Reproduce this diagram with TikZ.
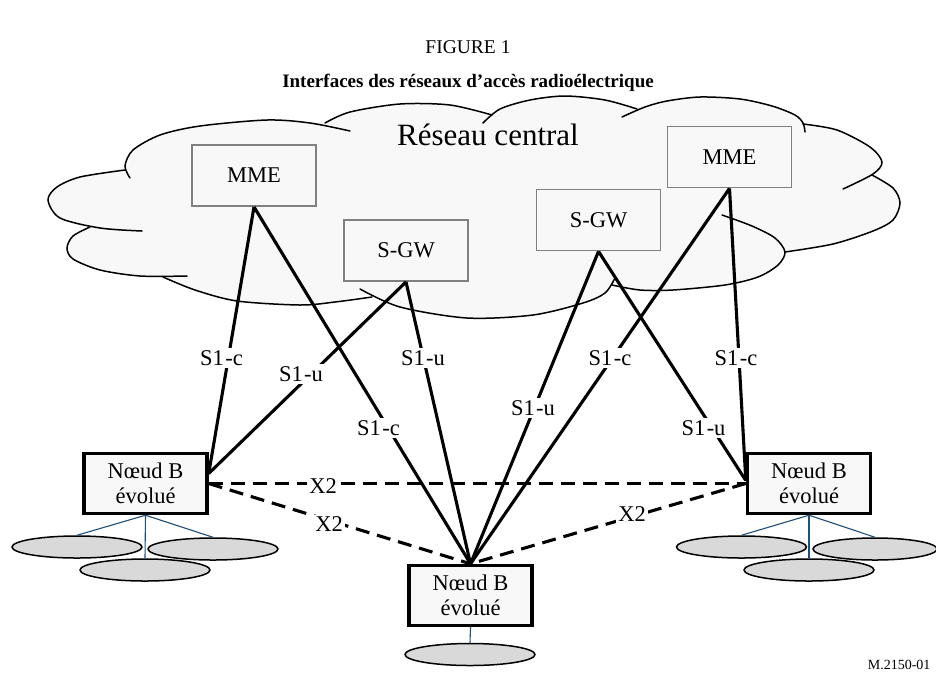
\documentclass[tikz,border=0pt]{standalone}
\usepackage{fontspec}
\setmainfont{Liberation Serif}
\usetikzlibrary{shapes.geometric,calc}
\definecolor{cloudgray}{HTML}{F8F8F8}
\definecolor{boxgray}{HTML}{808080}
\definecolor{cellgray}{HTML}{D9D9D9}
\definecolor{navy}{HTML}{1F4E79}
\begin{document}
\begin{tikzpicture}[x=1pt,y=-1pt,
  cloudline/.style={line width=1.5pt, line cap=round},
  corebox/.style={draw=boxgray, line width=1.8pt, fill=cloudgray, minimum width=124pt, minimum height=61pt, inner sep=0pt, font=\fontsize{22.5}{25}\selectfont},
  enbbox/.style={draw=black, line width=3.4pt, fill=cloudgray, minimum width=123pt, minimum height=60pt, inner sep=0pt, align=center, font=\fontsize{22.5}{24.5}\selectfont},
  link/.style={line width=3.1pt},
  xlink/.style={line width=3.1pt, dash pattern=on 14pt off 8pt},
  lbl/.style={fill=white, inner sep=2pt, font=\fontsize{22.5}{25}\selectfont},
  cell/.style={ellipse, draw=black, line width=1.5pt, fill=cellgray, minimum width=130pt, minimum height=22pt, inner sep=0pt},
  cellline/.style={draw=navy, line width=1.1pt}]
\useasboundingbox (0,0) rectangle (936,681);
\fill[white] (0,0) rectangle (936,681);

% titles
\node[font=\fontsize{19.5}{22}\selectfont] (fig) at (468,47) {FIGURE 1};
\node[font=\bfseries\fontsize{19}{22}\selectfont] (title) at (468,83) {Interfaces des réseaux d'accès radioélectrique};

% cloud fill
\fill[cloudgray] plot[smooth cycle, tension=0.5] coordinates {
(125,166) (133,150) (160,135) (200,126) (267,120) (310,123) (330,120) (350,112) (400,104) (450,105) (488,114) (500,109) (530,100) (565,96) (605,100) (628,107) (645,107) (667,101) (700,97) (740,99) (772,106) (795,115) (803,123) (837,130) (870,147) (882,162) (875,174) (893,188) (900,203) (893,220) (873,231) (833,244) (785,252) (778,265) (758,277) (725,285) (673,290) (640,290) (614,284) (605,293) (583,303) (533,315) (467,318) (400,307) (368,294) (335,302) (300,305) (237,301) (195,290) (168,279) (140,276) (100,270) (73,259) (67,248) (73,236) (88,228) (60,218) (48,200) (57,187) (80,177)};
% cloud lobes
\draw[cloudline] plot[smooth] coordinates {(130,178) (125,166) (133,150) (160,135) (200,126) (267,120) (310,123) (350,131)};
\draw[cloudline] plot[smooth] coordinates {(325,123) (350,112) (400,104) (450,105) (492,115)};
\draw[cloudline] plot[smooth] coordinates {(483,123) (500,109) (530,100) (565,96) (605,100) (637,109)};
\draw[cloudline] plot[smooth] coordinates {(622,117) (645,107) (667,101) (700,97) (740,99) (772,106) (795,115) (803,123) (805,132)};
\draw[cloudline] plot[smooth] coordinates {(803,124) (837,130) (870,147) (882,162) (873,174) (843,189)};
\draw[cloudline] plot[smooth] coordinates {(872,175) (893,188) (900,203) (893,220) (873,231) (833,244) (785,252)};
\draw[cloudline] plot[smooth] coordinates {(722,215) (752,226) (775,238) (785,252) (778,265) (758,277) (725,285) (673,290) (640,290) (612,285)};
\draw[cloudline] plot[smooth] coordinates {(615,278) (605,293) (583,303) (533,315) (467,318) (400,307) (360,289)};
\draw[cloudline] plot[smooth] coordinates {(372,297) (335,302) (300,305) (237,301) (195,290) (163,277)};
\draw[cloudline] plot[smooth] coordinates {(187,276) (140,276) (100,270) (73,259) (67,248) (73,236) (90,227)};
\draw[cloudline] plot[smooth] coordinates {(142,231) (100,228) (60,218) (48,200) (57,187) (80,177) (125,170)};

\node[font=\fontsize{31}{34}\selectfont, anchor=base] (core) at (488,145) {Réseau central};

% core boxes
\node[corebox] (mme1) at (254,175.5) {MME};
\node[corebox] (sgw1) at (406,250.5) {S-GW};
\node[corebox] (sgw2) at (598.5,220) {S-GW};
\node[corebox] (mme2) at (729.5,157) {MME};

% eNB boxes
\node[enbbox] (enb1) at (145.5,483.5) {Nœud B\\évolué};
\node[enbbox] (enb2) at (470.5,595.5) {Nœud B\\évolué};
\node[enbbox] (enb3) at (809,483.5) {Nœud B\\évolué};

\coordinate (enb1c) at ($(enb1.east)+(0,-10)$);
\coordinate (enb3c) at ($(enb3.west)+(0,-3)$);

% S1 links
\draw[link] (mme1.south) -- (enb1c);
\draw[link] (mme1.south) -- (enb2.north);
\draw[link] (sgw1.south) -- (enb1c);
\draw[link] (sgw1.south) -- (enb2.north);
\draw[link] (sgw2.south) -- (enb2.north);
\draw[link] (sgw2.south) -- (enb3c);
\draw[link] (mme2.south) -- (enb2.north);
\draw[link] (mme2.south) -- (enb3c);
% X2 links
\draw[xlink] (enb1.east) -- (enb3.west);
\draw[xlink] (enb1.east) -- (enb2.north);
\draw[xlink] (enb3.west) -- (enb2.north);

% labels
\node[lbl] (l1) at (221.5,358) {S1\kern1.5pt-c};
\node[lbl] (l2) at (301,374) {S1\kern1.5pt-u};
\node[lbl] (l3) at (423,358) {S1\kern1.5pt-u};
\node[lbl] (l4) at (378.5,428) {S1\kern1.5pt-c};
\node[lbl] (l5) at (533,408) {S1\kern1.5pt-u};
\node[lbl] (l6) at (610,358) {S1\kern1.5pt-c};
\node[lbl] (l7) at (736,358) {S1\kern1.5pt-c};
\node[lbl] (l8) at (703.5,428) {S1\kern1.5pt-u};
\node[lbl] (x1) at (323,486) {X2};
\node[lbl] (x2) at (329,524.5) {X2};
\node[lbl] (x3) at (632,514.5) {X2};

% cells
\node[cell] (c11) at (77,547) {};
\node[cell] (c12) at (213,549) {};
\node[cell] (c13) at (145,570) {};
\draw[cellline] (enb1.south) -- (c11.north);
\draw[cellline] (enb1.south) -- (c12.north);
\draw[cellline] (enb1.south) -- (c13.north);

\node[cell] (c21) at (470,654.5) {};
\draw[cellline] (enb2.south) -- (c21.north);

\node[cell] (c31) at (741.5,547) {};
\node[cell, minimum width=124pt] (c32) at (875,549) {};
\node[cell] (c33) at (809,570) {};
\draw[cellline] (enb3.south) -- (c31.north);
\draw[cellline] (enb3.south) -- (c32.north);
\draw[cellline] (enb3.south) -- (c33.north);

\node[font=\fontsize{14}{16}\selectfont, anchor=east] (ref) at (934,665) {M.2150-01};
\end{tikzpicture}
\end{document}
